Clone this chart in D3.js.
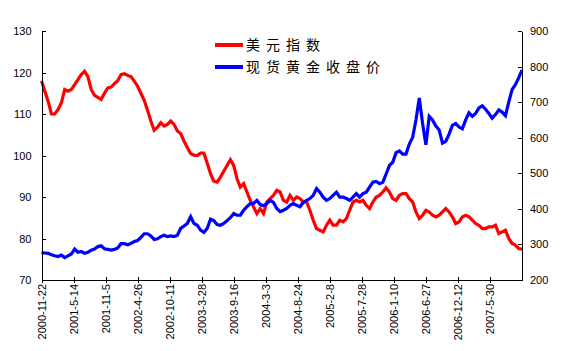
<!DOCTYPE html>
<html>
<head>
<meta charset="utf-8">
<script src="https://cdn.jsdelivr.net/npm/d3@7"></script>
<style>
  body { margin: 0; background: #fff; }
  text { font-family: "Liberation Sans", Arial, sans-serif; font-size: 11px; fill: #000; }
  .legend text { font-family: "Noto Sans CJK SC", sans-serif; font-size: 14px; letter-spacing: 6px; }
</style>
</head>
<body>
<div id="main"></div>
<script>
const ctx = {
    w: 564,
    h: 351,
    left: 41.5,
    right: 522,
    top: 31,
    bottom: 280,
    DAYS: 1800,
};

// x-axis labels, one every 120 trading days
const dateLabels = ["2000-11-22", "2001-5-14", "2001-11-5", "2002-4-26", "2002-10-11",
    "2003-3-28", "2003-9-16", "2004-3-3", "2004-8-24", "2005-2-8", "2005-7-28",
    "2006-1-10", "2006-6-27", "2006-12-12", "2007-5-30"];
const leftTicks = [70, 80, 90, 100, 110, 120, 130];
const rightTicks = [200, 300, 400, 500, 600, 700, 800, 900];

// 美元指数 (left axis), sampled evenly over the period
const usdIndex = [
    118.0, 115.5, 113.1, 110.0, 110.0, 111.1, 112.7, 115.9, 115.5, 115.9,
    117.1, 118.3, 119.5, 120.3, 119.0, 115.9, 114.5, 114.0, 113.5, 115.0,
    116.3, 116.5, 117.3, 118.0, 119.5, 119.7, 119.3, 119.0, 117.9, 116.7,
    115.0, 113.3, 110.9, 108.3, 106.1, 106.8,
    107.9, 107.1, 107.5, 108.3, 107.5, 105.9, 105.3, 103.5, 101.9, 100.5,
    100.1, 100.0, 100.6, 100.6, 98.2, 95.6, 93.8, 93.6, 94.8, 96.2,
    97.6, 99.0, 97.6, 94.4, 92.4, 93.2, 91.2, 89.2, 87.6, 86.0,
    87.2, 86.0, 88.8, 89.6, 90.4, 91.6,
    91.2, 89.2, 88.8, 90.4, 89.2, 90.0, 89.6, 88.8, 88.8, 86.8,
    84.4, 82.4, 82.0, 81.6, 83.2, 84.4, 83.2, 83.2, 84.4, 84.0,
    84.8, 86.8, 88.8, 89.2, 88.8, 89.2, 88.0, 87.2, 88.8, 90.0,
    90.4, 91.2, 92.2, 91.2, 89.6, 89.2,
    90.4, 90.8, 90.8, 89.6, 88.8, 86.4, 84.8, 85.6, 86.8, 86.4,
    85.6, 85.2, 85.6, 86.4, 87.2, 86.4, 85.2, 83.6, 84.0, 85.2,
    85.6, 85.2, 84.4, 83.6, 83.2, 82.4, 82.4, 82.8, 82.8, 83.2,
    81.2, 81.6, 82.0, 80.0, 78.8, 78.4, 77.6, 77.4
];

// 现货黄金收盘价 (right axis)
const goldPrice = [
    277, 276, 275, 271, 268, 266, 270, 263, 268, 273,
    287, 278, 280, 275, 278, 284, 287, 294, 296, 288,
    286, 284, 286, 290, 302, 302, 299, 303, 308, 311,
    320, 330, 330, 324, 314, 316,
    322, 326, 322, 324, 322, 326, 345, 352, 359, 378,
    359, 354, 340, 334, 345, 371, 367, 356, 354, 359,
    367, 375, 387, 382, 382, 396, 406, 415, 415, 424,
    412, 409, 415, 424, 418, 401,
    392, 396, 401, 410, 415, 410, 406, 418, 424, 429,
    438, 457, 447, 433, 424, 429, 438, 447, 433, 433,
    429, 424, 433, 443, 433, 443, 447, 461, 475, 477,
    471, 475, 498, 522, 531, 558,
    563, 554, 554, 582, 601, 650, 712, 640, 580, 660,
    650, 633, 622, 585, 590, 610, 635, 640, 630, 625,
    650, 670, 660, 668, 684, 690, 680, 668, 655, 665,
    678, 672, 662, 700, 735, 749, 768, 790
];

const seriesNames = ["美元指数", "现货黄金收盘价"];
const seriesColors = ["#ff0000", "#0000ff"];

function initSVGcanvas(){
    ctx.xScale = d3.scaleLinear().domain([0, ctx.DAYS]).range([ctx.left, ctx.right]);
    ctx.yLeft = d3.scaleLinear().domain([70, 130]).range([ctx.bottom, ctx.top]);
    ctx.yRight = d3.scaleLinear().domain([200, 900]).range([ctx.bottom, ctx.top]);

    let bkg = d3.select("#bkgG");
    // left axis, ticks pointing inside
    bkg.append("g")
       .attr("transform", `translate(${ctx.left},0)`)
       .call(d3.axisLeft(ctx.yLeft).tickValues(leftTicks).tickSizeInner(-4)
               .tickSizeOuter(0).tickPadding(10));
    // right axis
    bkg.append("g")
       .attr("transform", `translate(${ctx.right},0)`)
       .call(d3.axisRight(ctx.yRight).tickValues(rightTicks).tickSizeInner(-4)
               .tickSizeOuter(0).tickPadding(8));
    // bottom axis with rotated date labels
    let xAxis = bkg.append("g")
       .attr("transform", `translate(0,${ctx.bottom})`)
       .call(d3.axisBottom(ctx.xScale)
               .tickValues(dateLabels.map((d, i) => i * 120))
               .tickFormat((d, i) => dateLabels[i])
               .tickSizeOuter(0));
    xAxis.selectAll(".tick line").attr("y1", -3).attr("y2", 3);
    xAxis.selectAll(".tick text")
       .attr("transform", "rotate(-90)")
       .attr("x", -4)
       .attr("y", 0)
       .attr("dy", "0.35em")
       .style("text-anchor", "end");

    bkg.selectAll(".domain, .tick line")
       .attr("stroke", "#000")
       .attr("shape-rendering", "crispEdges");
    bkg.selectAll("text").attr("font-family", null).attr("font-size", null);
}

function populateSVGcanvas(){
    let n = usdIndex.length;
    let day = (i) => i * ctx.DAYS / (n - 1);
    let redLine = d3.line().x((d, i) => ctx.xScale(day(i))).y((d) => ctx.yLeft(d));
    let blueLine = d3.line().x((d, i) => ctx.xScale(day(i))).y((d) => ctx.yRight(d));

    d3.select("#lines").append("path")
      .datum(usdIndex)
      .attr("d", redLine)
      .attr("fill", "none")
      .attr("stroke", seriesColors[0])
      .attr("stroke-width", 3.2);
    d3.select("#lines").append("path")
      .datum(goldPrice)
      .attr("d", blueLine)
      .attr("fill", "none")
      .attr("stroke", seriesColors[1])
      .attr("stroke-width", 3.2);

    // legend
    let lg = d3.select("#legend").selectAll("g")
      .data(seriesNames)
      .enter()
      .append("g")
      .attr("transform", (d, i) => `translate(215,${45 + i * 22})`);
    lg.append("line")
      .attr("x1", 0).attr("x2", 28)
      .attr("stroke", (d, i) => seriesColors[i])
      .attr("stroke-width", 4);
    lg.append("text")
      .attr("x", 31)
      .attr("dy", "0.36em")
      .text((d) => d);
}

function createViz(){
    let svgEl = d3.select("#main").append("svg")
        .attr("width", ctx.w)
        .attr("height", ctx.h);
    let rootG = svgEl.append("g").attr("id", "rootG");
    rootG.append("g").attr("id", "lines");
    rootG.append("g").attr("id", "bkgG");
    rootG.append("g").attr("id", "legend").attr("class", "legend");
    initSVGcanvas();
    populateSVGcanvas();
}

createViz();
</script>
</body>
</html>
